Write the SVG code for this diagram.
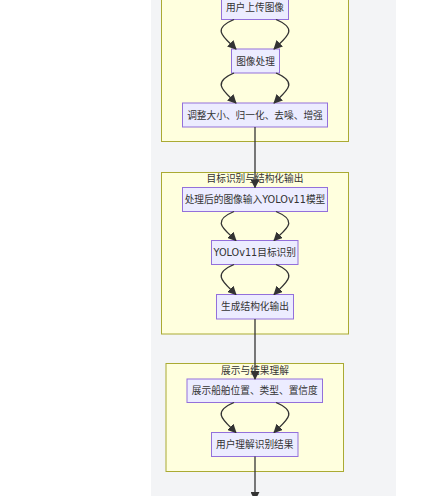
<svg xmlns="http://www.w3.org/2000/svg" width="441" height="496" viewBox="0 0 441 496">
<style>
.bg{fill:#f3f4f6}
.cl{fill:#ffffde;stroke:#aaaa33;stroke-width:1}
.nd{fill:#ececff;stroke:#9370db;stroke-width:1}
.t{font-family:"DejaVu Sans","Noto Sans CJK SC",sans-serif;font-size:9.7px;fill:#333;text-anchor:middle;dominant-baseline:central}
.e{fill:none;stroke:#333;stroke-width:1.3}
</style>
<defs>
<marker id="ah" viewBox="0 0 10 10" refX="9" refY="5" markerWidth="9" markerHeight="9" markerUnits="userSpaceOnUse" orient="auto">
<path d="M0,0 L10,5 L0,10 z" fill="#333"/>
</marker>
</defs>
<rect x="0" y="0" width="441" height="496" fill="#ffffff"/>
<rect class="bg" x="151" y="0" width="245" height="496"/>
<g id="cluster1">
<rect class="cl" x="161.5" y="-20" width="187" height="161.5"/>
</g>
<g id="cluster2">
<rect class="cl" x="161.5" y="172.5" width="187" height="161.5"/>
<text class="t" x="255" y="178.5">目标识别与结构化输出</text>
</g>
<g id="cluster3">
<rect class="cl" x="166" y="363.5" width="177.5" height="108"/>
<text class="t" x="255" y="370">展示与结果理解</text>
</g>
<g id="n1"><rect class="nd" x="221.5" y="-4.5" width="67" height="24"/><text class="t" x="255" y="7.5">用户上传图像</text></g>
<g id="n2"><rect class="nd" x="231.5" y="49" width="48" height="24"/><text class="t" x="255.5" y="61">图像处理</text></g>
<g id="n3"><rect class="nd" x="182.5" y="103" width="145" height="24"/><text class="t" x="255" y="115">调整大小、归一化、去噪、增强</text></g>
<g id="n4"><rect class="nd" x="182.5" y="187.5" width="145" height="24"/><text class="t" x="255" y="199.5">处理后的图像输入YOLOv11模型</text></g>
<g id="n5"><rect class="nd" x="211.5" y="240.5" width="86.5" height="24"/><text class="t" x="254.75" y="252.5">YOLOv11目标识别</text></g>
<g id="n6"><rect class="nd" x="216.5" y="294.5" width="77" height="24.5"/><text class="t" x="255" y="306.75">生成结构化输出</text></g>
<g id="n7"><rect class="nd" x="187" y="379" width="135.5" height="23.5"/><text class="t" x="254.75" y="390.75">展示船舶位置、类型、置信度</text></g>
<g id="n8"><rect class="nd" x="211.5" y="432.5" width="86.5" height="24"/><text class="t" x="254.75" y="444.5">用户理解识别结果</text></g>
<g id="connectors">
<path class="e" marker-end="url(#ah)" d="M234,19.5 C210,29.5 225,38 236,49"/>
<path class="e" marker-end="url(#ah)" d="M276,19.5 C300,29.5 285,38 274,49"/>
<path class="e" marker-end="url(#ah)" d="M234,73 C210,83 225,92 236,103"/>
<path class="e" marker-end="url(#ah)" d="M276,73 C300,83 285,92 274,103"/>
<path class="e" marker-end="url(#ah)" d="M255,127 L255,187.5"/>
<path class="e" marker-end="url(#ah)" d="M234,211.5 C210,221.5 225,229.5 236,240.5"/>
<path class="e" marker-end="url(#ah)" d="M276,211.5 C300,221.5 285,229.5 274,240.5"/>
<path class="e" marker-end="url(#ah)" d="M234,264.5 C210,274.5 225,283.5 236,294.5"/>
<path class="e" marker-end="url(#ah)" d="M276,264.5 C300,274.5 285,283.5 274,294.5"/>
<path class="e" marker-end="url(#ah)" d="M255,319 L255,379"/>
<path class="e" marker-end="url(#ah)" d="M234,402.5 C210,412.5 225,421.5 236,432.5"/>
<path class="e" marker-end="url(#ah)" d="M276,402.5 C300,412.5 285,421.5 274,432.5"/>
<path class="e" marker-end="url(#ah)" d="M255,456.5 L255,500"/>
</g>
</svg>
